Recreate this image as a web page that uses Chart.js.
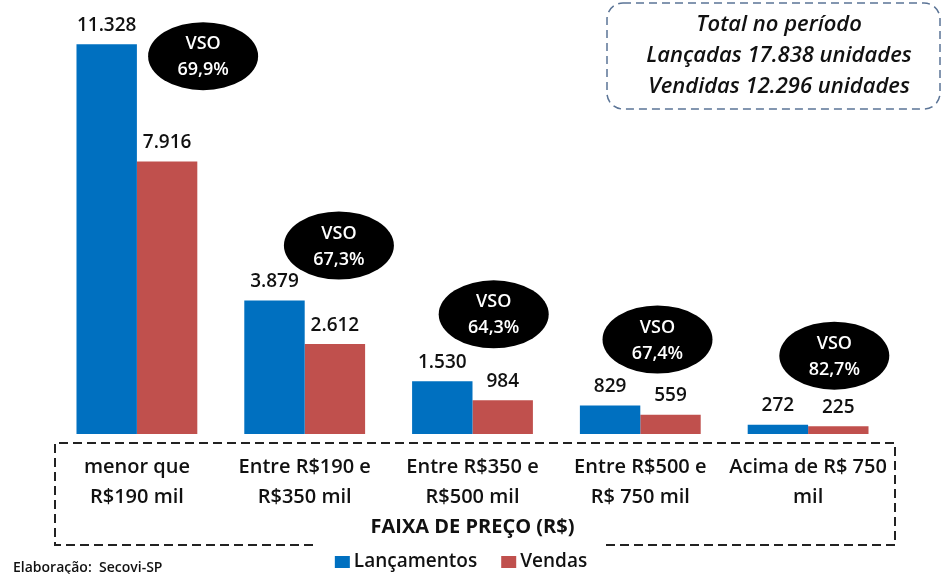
<!DOCTYPE html>
<html>
<head>
<meta charset="utf-8">
<script src="https://cdn.jsdelivr.net/npm/chart.js@4"></script>
<style>
  html, body { margin: 0; padding: 0; background: #fff; }
  #wrap { width: 950px; height: 574px; position: relative; }
</style>
</head>
<body>
<div id="wrap"><canvas id="chart" width="950" height="574"></canvas></div>
<script>
// data
const faixas = [
    ["menor que", "R$190 mil"],
    ["Entre R$190 e", "R$350 mil"],
    ["Entre R$350 e", "R$500 mil"],
    ["Entre R$500 e", "R$ 750 mil"],
    ["Acima de R$ 750", "mil"]
];
const lancamentos = [11328, 3879, 1530, 829, 272];
const vendas = [7916, 2612, 984, 559, 225];
const vso = ["69,9%", "67,3%", "64,3%", "67,4%", "82,7%"];
const totalLines = ["Total no período", "Lançadas 17.838 unidades", "Vendidas 12.296 unidades"];

const BLUE = "#0070C0";
const RED = "#C0504D";
const FONT = "'Open Sans', 'Noto Sans', sans-serif";

// bubble placement relative to the bars (px): x from red bar centre, y from blue bar top
const bubbleDx = [36, 4, -9, -13, -4];
const bubbleDy = [12, -55, -67, -66, -69];

function fmt(n) {
    return String(n).replace(/\B(?=(\d{3})+(?!\d))/g, ".");
}

const decorPlugin = {
    id: "decor",
    afterDatasetsDraw(chart) {
        const ctx = chart.ctx;
        ctx.save();

        // value labels above bars
        ctx.font = "600 19px " + FONT;
        ctx.fillStyle = "#111";
        ctx.textAlign = "center";
        ctx.textBaseline = "middle";
        chart.data.datasets.forEach((ds, di) => {
            chart.getDatasetMeta(di).data.forEach((bar, i) => {
                ctx.fillText(fmt(ds.data[i]), bar.x, bar.y - 19);
            });
        });

        // VSO bubbles
        const blueMeta = chart.getDatasetMeta(0).data;
        const redMeta = chart.getDatasetMeta(1).data;
        vso.forEach((v, i) => {
            const cx = redMeta[i].x + bubbleDx[i];
            const cy = blueMeta[i].y + bubbleDy[i];
            ctx.beginPath();
            ctx.ellipse(cx, cy, 55, 34, 0, 0, Math.PI * 2);
            ctx.fillStyle = "#000";
            ctx.fill();
            ctx.fillStyle = "#fff";
            ctx.font = "600 18px " + FONT;
            ctx.fillText("VSO", cx, cy - 12);
            ctx.fillText(v, cx, cy + 14);
        });

        // dashed box round the category axis
        ctx.strokeStyle = "#222";
        ctx.lineWidth = 2;
        ctx.setLineDash([9, 5]);
        ctx.beginPath();
        ctx.moveTo(313, 545);
        ctx.lineTo(55, 545);
        ctx.lineTo(55, 443);
        ctx.lineTo(895, 443);
        ctx.lineTo(895, 545);
        ctx.lineTo(606, 545);
        ctx.stroke();

        // total box
        ctx.strokeStyle = "#5b7496";
        ctx.lineWidth = 1.5;
        ctx.setLineDash([8, 5]);
        ctx.beginPath();
        ctx.roundRect(607, 3, 333, 106, 16);
        ctx.stroke();
        ctx.setLineDash([]);
        ctx.fillStyle = "#111";
        ctx.font = "italic 600 22px " + FONT;
        totalLines.forEach((t, i) => ctx.fillText(t, 779, 25 + i * 31));

        // legend (drawn here so it can sit inside the gap of the dashed box)
        ctx.font = "600 19px " + FONT;
        ctx.textAlign = "left";
        const items = chart.data.datasets.map(ds => ({
            label: ds.label, color: ds.backgroundColor, w: ctx.measureText(ds.label).width
        }));
        const box = 15, gapText = 4, gapItem = 24;
        let total = items.reduce((s, it) => s + box + gapText + it.w, 0) + gapItem * (items.length - 1);
        let x = 461 - total / 2;
        items.forEach(it => {
            ctx.fillStyle = it.color;
            ctx.fillRect(x, 556, box, 12);
            ctx.fillStyle = "#111";
            ctx.fillText(it.label, x + box + gapText, 562);
            x += box + gapText + it.w + gapItem;
        });

        // source note
        ctx.font = "600 14px " + FONT;
        ctx.fillText("Elaboração:  Secovi-SP", 13, 568);

        ctx.restore();
    }
};

new Chart(document.getElementById("chart"), {
    type: "bar",
    data: {
        labels: faixas,
        datasets: [
            { label: "Lançamentos", data: lancamentos, backgroundColor: BLUE },
            { label: "Vendas", data: vendas, backgroundColor: RED }
        ]
    },
    options: {
        responsive: false,
        animation: false,
        layout: { padding: { top: 21, left: 53, right: 58, bottom: 35 } },
        categoryPercentage: 0.72,
        barPercentage: 1,
        scales: {
            x: {
                grid: { display: false },
                border: { display: false },
                ticks: {
                    color: "#111",
                    padding: 10,
                    maxRotation: 0,
                    autoSkip: false,
                    font: { family: FONT, size: 20, weight: "600", lineHeight: 1.5 }
                },
                title: {
                    display: true,
                    text: "FAIXA DE PREÇO (R$)",
                    color: "#111",
                    padding: { top: -7, bottom: 0 },
                    font: { family: FONT, size: 20, weight: "bold" }
                }
            },
            y: { display: false, min: 0, max: 12000 }
        },
        plugins: {
            legend: { display: false },
            tooltip: { enabled: false }
        }
    },
    plugins: [decorPlugin]
});
</script>
</body>
</html>
